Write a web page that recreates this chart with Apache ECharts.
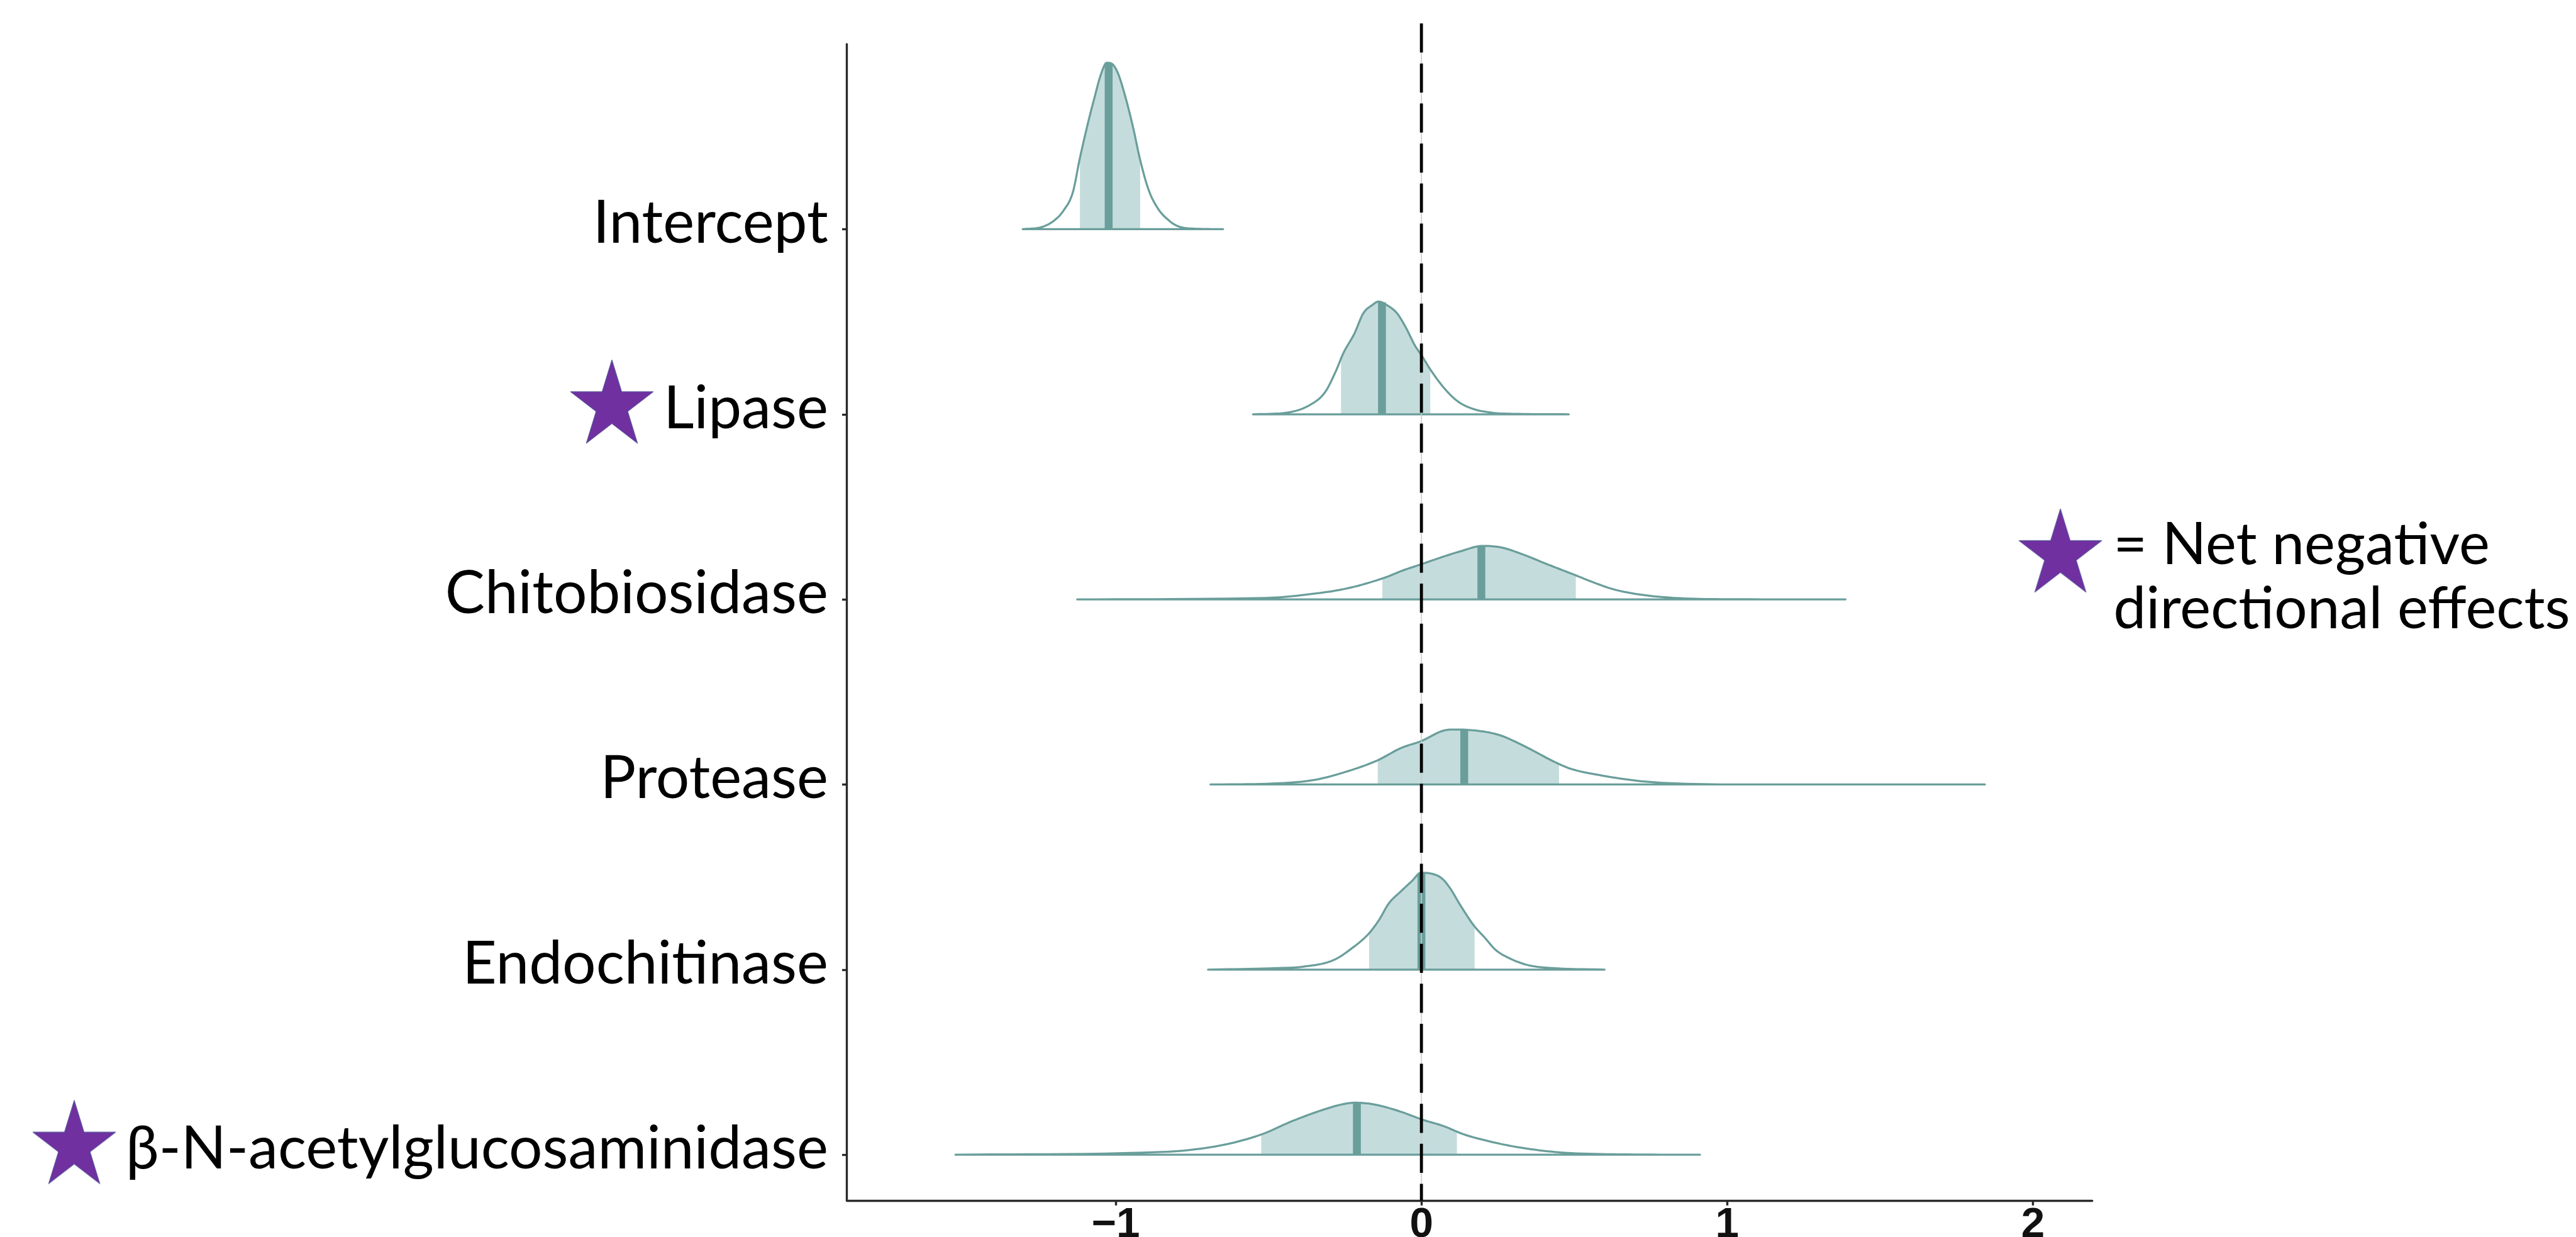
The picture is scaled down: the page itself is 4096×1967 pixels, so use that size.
<!DOCTYPE html>
<html>
<head>
<meta charset="utf-8">
<script src="https://cdn.jsdelivr.net/npm/echarts@6/dist/echarts.min.js"></script>
<style>
html,body{margin:0;padding:0;background:#ffffff;}
#chart{width:4096px;height:1967px;}
</style>
</head>
<body>
<div id="chart"></div>
<script>
// ---------------- data ----------------
// categories from bottom (0) to top (5)
const categories = ['β-N-acetylglucosaminidase', 'Endochitinase', 'Protease', 'Chitobiosidase', 'Lipase', 'Intercept'];
const starred = ['β-N-acetylglucosaminidase', 'Lipase'];
const xTickValues = [-1, 0, 1, 2];
const referenceX = 0;

const medians      = [-0.211, 0.000, 0.140, 0.196, -0.129, -1.023];
const intervalLow  = [-0.524, -0.171, -0.143, -0.128, -0.263, -1.117];
const intervalHigh = [ 0.116,  0.174,  0.450,  0.505,  0.029, -0.920];

// density outlines: x positions and scaled heights (1 = gap between rows)
const bnagX = [-1.524, -0.915, -0.767, -0.636, -0.521, -0.422, -0.323, -0.257, -0.216, -0.159, -0.076, 0.006, 0.072, 0.137, 0.220, 0.318, 0.450, 0.647, 0.911];
const bnagH = [0, 0.011, 0.024, 0.057, 0.111, 0.182, 0.242, 0.273, 0.281, 0.273, 0.237, 0.188, 0.155, 0.111, 0.073, 0.040, 0.013, 0.002, 0];

const endoX = [-0.698, -0.474, -0.386, -0.288, -0.226, -0.173, -0.138, -0.107, -0.067, -0.032, -0.001, 0.031, 0.066, 0.092, 0.128, 0.172, 0.208, 0.243, 0.287, 0.349, 0.429, 0.599];
const endoH = [0, 0.008, 0.016, 0.051, 0.117, 0.193, 0.270, 0.357, 0.423, 0.477, 0.523, 0.519, 0.494, 0.444, 0.346, 0.237, 0.171, 0.106, 0.062, 0.024, 0.008, 0];

const protX = [-0.690, -0.488, -0.353, -0.252, -0.143, -0.067, 0.000, 0.068, 0.101, 0.152, 0.253, 0.337, 0.438, 0.488, 0.589, 0.707, 0.842, 1.111, 1.843];
const protH = [0, 0.005, 0.024, 0.066, 0.131, 0.197, 0.235, 0.289, 0.297, 0.295, 0.268, 0.207, 0.120, 0.085, 0.049, 0.020, 0.005, 0, 0];

const chitoX = [-1.126, -0.509, -0.341, -0.241, -0.124, -0.058, -0.002, 0.059, 0.126, 0.201, 0.260, 0.327, 0.410, 0.494, 0.561, 0.627, 0.711, 0.828, 0.995, 1.387];
const chitoH = [0, 0.008, 0.033, 0.060, 0.115, 0.158, 0.189, 0.224, 0.259, 0.289, 0.281, 0.246, 0.191, 0.137, 0.093, 0.055, 0.027, 0.008, 0.001, 0];

const lipX = [-0.551, -0.440, -0.366, -0.315, -0.278, -0.256, -0.219, -0.190, -0.161, -0.140, -0.113, -0.080, -0.051, -0.021, 0.001, 0.030, 0.074, 0.118, 0.162, 0.228, 0.316, 0.482];
const lipH = [0, 0.009, 0.049, 0.120, 0.240, 0.328, 0.437, 0.546, 0.590, 0.609, 0.590, 0.546, 0.469, 0.371, 0.317, 0.240, 0.142, 0.071, 0.033, 0.009, 0.002, 0];

const intX = [-1.304, -1.241, -1.201, -1.170, -1.140, -1.117, -1.091, -1.069, -1.049, -1.029, -1.014, -0.993, -0.968, -0.943, -0.920, -0.892, -0.862, -0.826, -0.796, -0.745, -0.649];
const intH = [0, 0.012, 0.047, 0.102, 0.200, 0.385, 0.571, 0.713, 0.833, 0.899, 0.895, 0.844, 0.713, 0.549, 0.374, 0.211, 0.112, 0.047, 0.016, 0.003, 0];

const legendLines = ['= Net negative', 'directional effects'];

// ---------------- styling / layout ----------------
const S = 0.964;
const LINE = '#6a9e9b';
const FILL = '#c5dcdd';
const AXIS = '#2a2a2a';
const STAR = '#7030a0';
const LABEL_FONT = 'Lato';
const F = 98 * S;
const FL = 96 * S;
const X_MIN = -1.879, X_MAX = 2.194;
const Y_MIN = -0.248, Y_MAX = 6.0;

const ridgeXs = [bnagX, endoX, protX, chitoX, lipX, intX];
const ridgeHs = [bnagH, endoH, protH, chitoH, lipH, intH];

// monotone cubic (rendering only)
function monoSlopes(xs, ys) {
  const n = xs.length, d = [], m = new Array(n).fill(0);
  for (let i = 0; i < n - 1; i++) d.push((ys[i + 1] - ys[i]) / (xs[i + 1] - xs[i]));
  m[0] = d[0]; m[n - 1] = d[n - 2];
  for (let i = 1; i < n - 1; i++) m[i] = d[i - 1] * d[i] <= 0 ? 0 : (d[i - 1] + d[i]) / 2;
  for (let i = 0; i < n - 1; i++) {
    if (d[i] === 0) { m[i] = 0; m[i + 1] = 0; continue; }
    const a = m[i] / d[i], b = m[i + 1] / d[i], s = a * a + b * b;
    if (s > 9) { const t = 3 / Math.sqrt(s); m[i] = t * a * d[i]; m[i + 1] = t * b * d[i]; }
  }
  return m;
}
function hermite(xs, ys, m, i, t) {
  const h = xs[i + 1] - xs[i], t2 = t * t, t3 = t2 * t;
  return (2 * t3 - 3 * t2 + 1) * ys[i] + (t3 - 2 * t2 + t) * h * m[i] + (-2 * t3 + 3 * t2) * ys[i + 1] + (t3 - t2) * h * m[i + 1];
}
function sampleCurve(xs, ys, steps) {
  const m = monoSlopes(xs, ys), out = [];
  for (let i = 0; i < xs.length - 1; i++) {
    for (let k = 0; k < steps; k++) {
      const t = k / steps;
      out.push([xs[i] + t * (xs[i + 1] - xs[i]), Math.max(0, hermite(xs, ys, m, i, t))]);
    }
  }
  out.push([xs[xs.length - 1], ys[ys.length - 1]]);
  return out;
}
function valueAt(xs, ys, x) {
  const m = monoSlopes(xs, ys);
  for (let i = 0; i < xs.length - 1; i++) {
    if (x >= xs[i] && x <= xs[i + 1]) return Math.max(0, hermite(xs, ys, m, i, (x - xs[i]) / (xs[i + 1] - xs[i])));
  }
  return 0;
}

// star image (drawn on a canvas)
function makeStar(w, h, padRight, padBottom) {
  const c = document.createElement('canvas');
  c.width = Math.round(w + padRight);
  c.height = Math.round(h + padBottom);
  const ctx = c.getContext('2d');
  ctx.beginPath();
  for (let k = 0; k < 10; k++) {
    const a = -Math.PI / 2 + k * Math.PI / 5;
    const r = k % 2 === 0 ? 1 : 0.382;
    const px = r * Math.cos(a), py = r * Math.sin(a);
    const x = 1 + (px + 0.9511) / 1.9022 * (w - 2);
    const y = 1 + (py + 1) / 1.809 * (h - 2);
    if (k === 0) ctx.moveTo(x, y); else ctx.lineTo(x, y);
  }
  ctx.closePath();
  ctx.fillStyle = STAR;
  ctx.fill();
  ctx.strokeStyle = '#4d5a98';
  ctx.lineWidth = 1;
  ctx.stroke();
  return c;
}
const labelStar = makeStar(139 * S, 140 * S, 16 * S, 24 * S);
const legendStar = makeStar(139 * S, 140 * S, 0, 0);

const chart = echarts.init(document.getElementById('chart'), null, { renderer: 'canvas' });

function renderRidge(params, api) {
  const i = params.dataIndex;
  const xs = ridgeXs[i], hs = ridgeHs[i];
  const pts = sampleCurve(xs, hs, 10);
  const px = p => api.coord([p[0], i + p[1]]);
  const outline = pts.map(px);
  const lo = intervalLow[i], hi = intervalHigh[i];
  const fill = [px([lo, 0]), px([lo, valueAt(xs, hs, lo)])];
  pts.forEach(p => { if (p[0] > lo && p[0] < hi) fill.push(px(p)); });
  fill.push(px([hi, valueAt(xs, hs, hi)]), px([hi, 0]));
  const md = medians[i];
  const m0 = px([md, 0]), m1 = px([md, valueAt(xs, hs, md)]);
  return {
    type: 'group',
    children: [
      { type: 'polygon', shape: { points: fill }, style: { fill: FILL } },
      { type: 'line', shape: { x1: m0[0], y1: m0[1], x2: m1[0], y2: m1[1] }, style: { stroke: LINE, lineWidth: 13 * S } },
      { type: 'polygon', shape: { points: outline }, style: { fill: 'none', stroke: LINE, lineWidth: 3.4 * S, lineJoin: 'round' } }
    ]
  };
}

function renderRef(params, api) {
  const top = api.coord([referenceX, Y_MAX]);
  const bot = api.coord([referenceX, Y_MIN]);
  const yTop = top[1] - 34 * S;
  return {
    type: 'group',
    children: [
      { type: 'line', shape: { x1: top[0], y1: yTop, x2: bot[0], y2: bot[1] }, style: { stroke: '#c8c8c8', lineWidth: 1.6 * S } },
      { type: 'line', shape: { x1: top[0], y1: yTop, x2: bot[0], y2: bot[1] }, style: { stroke: '#000', lineWidth: 5 * S, lineDash: [48 * S, 18 * S], lineCap: 'butt' } }
    ]
  };
}

const option = {
  animation: false,
  backgroundColor: '#ffffff',
  grid: {
    left: 1397 * S, right: (4248 - 3450) * S, top: 72.7 * S, bottom: (2040 - 1980) * S,
    containLabel: false, outerBoundsMode: 'none'
  },
  xAxis: {
    type: 'value', min: X_MIN, max: X_MAX,
    splitLine: { show: false },
    axisLine: { show: true, onZero: false, lineStyle: { color: AXIS, width: 3.5 * S } },
    axisTick: { show: true, customValues: xTickValues, length: 8 * S, lineStyle: { color: AXIS, width: 3.5 * S } },
    axisLabel: {
      customValues: xTickValues, margin: 6,
      formatter: v => String(v).replace('-', '\u2212'),
      fontFamily: 'Liberation Sans', fontWeight: 'bold', fontSize: 70 * S, color: '#111'
    }
  },
  yAxis: {
    type: 'value', min: Y_MIN, max: Y_MAX,
    splitLine: { show: false },
    axisLine: { show: true, onZero: false, lineStyle: { color: AXIS, width: 3.5 * S } },
    axisTick: { show: true, customValues: [0, 1, 2, 3, 4, 5], length: 8 * S, lineStyle: { color: AXIS, width: 3.5 * S } },
    axisLabel: {
      customValues: [0, 1, 2, 3, 4, 5], margin: 31 * S,
      padding: [0, 0, 18 * S, 0],
      formatter: v => {
        const name = categories[Math.round(v)];
        return (starred.indexOf(name) >= 0 ? '{star|}' : '') + '{txt|' + name + '}';
      },
      rich: {
        txt: { fontFamily: LABEL_FONT, fontSize: F, color: '#000', verticalAlign: 'middle' },
        star: { width: labelStar.width, height: labelStar.height, backgroundColor: { image: labelStar }, verticalAlign: 'middle' }
      }
    }
  },
  series: [
    {
      type: 'custom', clip: false, z: 2,
      renderItem: renderRidge,
      encode: { x: 0, y: 1 },
      data: categories.map((c, i) => [medians[i], i])
    },
    {
      type: 'custom', clip: false, z: 5,
      renderItem: renderRef,
      encode: { x: 0, y: 1 },
      data: [[referenceX, 0]]
    }
  ],
  graphic: [
    { type: 'image', x: 3329 * S, y: 838 * S, style: { image: legendStar, width: 139 * S, height: 140 * S } },
    { type: 'text', x: 3486 * S, y: (936 - 36.8) * S, style: { text: legendLines[0], fontFamily: LABEL_FONT, fontSize: FL, fill: '#000', align: 'left', verticalAlign: 'middle' } },
    { type: 'text', x: 3486 * S, y: (1041.7 - 36.8) * S, style: { text: legendLines[1], fontFamily: LABEL_FONT, fontSize: FL, fill: '#000', align: 'left', verticalAlign: 'middle' } }
  ]
};
chart.setOption(option);
</script>
</body>
</html>
